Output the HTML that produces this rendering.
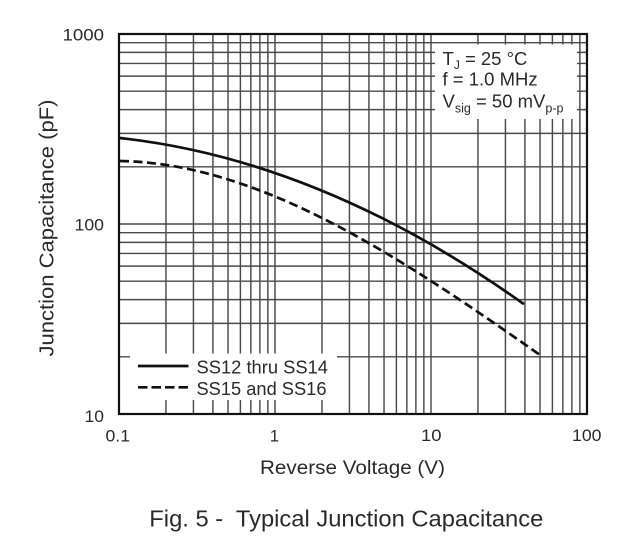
<!DOCTYPE html>
<html>
<head>
<meta charset="utf-8">
<style>
  html,body{margin:0;padding:0;background:#fff;}
  svg{display:block;}
  text{font-family:"Liberation Sans", Arial, sans-serif; fill:#2a2a2a;}
</style>
</head>
<body>
<svg width="620" height="543" viewBox="0 0 620 543" xmlns="http://www.w3.org/2000/svg">
  <rect x="0" y="0" width="620" height="543" fill="#fff"/>
  <!-- vertical grid -->
  <g stroke="#4a4a4a" stroke-width="1.45">
    <line x1="165.96" y1="34" x2="165.96" y2="414"/>
    <line x1="193.43" y1="34" x2="193.43" y2="414"/>
    <line x1="212.92" y1="34" x2="212.92" y2="414"/>
    <line x1="228.04" y1="34" x2="228.04" y2="414"/>
    <line x1="240.39" y1="34" x2="240.39" y2="414"/>
    <line x1="250.84" y1="34" x2="250.84" y2="414"/>
    <line x1="259.88" y1="34" x2="259.88" y2="414"/>
    <line x1="267.86" y1="34" x2="267.86" y2="414"/>
    <line x1="275" y1="34" x2="275" y2="414"/>
    <line x1="321.96" y1="34" x2="321.96" y2="414"/>
    <line x1="349.43" y1="34" x2="349.43" y2="414"/>
    <line x1="368.92" y1="34" x2="368.92" y2="414"/>
    <line x1="384.04" y1="34" x2="384.04" y2="414"/>
    <line x1="396.39" y1="34" x2="396.39" y2="414"/>
    <line x1="406.84" y1="34" x2="406.84" y2="414"/>
    <line x1="415.88" y1="34" x2="415.88" y2="414"/>
    <line x1="423.86" y1="34" x2="423.86" y2="414"/>
    <line x1="431" y1="34" x2="431" y2="414"/>
    <line x1="477.96" y1="34" x2="477.96" y2="414"/>
    <line x1="505.43" y1="34" x2="505.43" y2="414"/>
    <line x1="524.92" y1="34" x2="524.92" y2="414"/>
    <line x1="540.04" y1="34" x2="540.04" y2="414"/>
    <line x1="552.39" y1="34" x2="552.39" y2="414"/>
    <line x1="562.84" y1="34" x2="562.84" y2="414"/>
    <line x1="571.88" y1="34" x2="571.88" y2="414"/>
    <line x1="579.86" y1="34" x2="579.86" y2="414"/>
  </g>
  <!-- horizontal grid -->
  <g stroke="#4a4a4a" stroke-width="1.45">
    <line x1="119" y1="356.8" x2="587" y2="356.8"/>
    <line x1="119" y1="323.35" x2="587" y2="323.35"/>
    <line x1="119" y1="299.61" x2="587" y2="299.61"/>
    <line x1="119" y1="281.2" x2="587" y2="281.2"/>
    <line x1="119" y1="266.15" x2="587" y2="266.15"/>
    <line x1="119" y1="253.43" x2="587" y2="253.43"/>
    <line x1="119" y1="242.41" x2="587" y2="242.41"/>
    <line x1="119" y1="232.69" x2="587" y2="232.69"/>
    <line x1="119" y1="224" x2="587" y2="224"/>
    <line x1="119" y1="166.8" x2="587" y2="166.8"/>
    <line x1="119" y1="133.35" x2="587" y2="133.35"/>
    <line x1="119" y1="109.61" x2="587" y2="109.61"/>
    <line x1="119" y1="91.2" x2="587" y2="91.2"/>
    <line x1="119" y1="76.15" x2="587" y2="76.15"/>
    <line x1="119" y1="63.43" x2="587" y2="63.43"/>
    <line x1="119" y1="52.41" x2="587" y2="52.41"/>
    <line x1="119" y1="42.69" x2="587" y2="42.69"/>
  </g>
  <!-- white boxes for legend and annotation -->
  <rect x="130" y="353.5" width="207" height="46.5" fill="#fff"/>
  <rect x="435" y="44.5" width="142" height="74.5" fill="#fff"/>

  <!-- curves -->
  <path d="M120,138 Q321.5,160.2 523,303.5" fill="none" stroke="#111" stroke-width="2.7" stroke-linecap="round"/>
  <path d="M120,161 C260,163.4 400,256.7 540,355" fill="none" stroke="#111" stroke-width="2.7" stroke-dasharray="9 4.5"/>

  <!-- border -->
  <rect x="119" y="34" width="468" height="380" fill="none" stroke="#111" stroke-width="2.2"/>

  <!-- legend -->
  <line x1="138" y1="366" x2="188.5" y2="366" stroke="#111" stroke-width="2.7"/>
  <line x1="138" y1="387.3" x2="188.5" y2="387.3" stroke="#111" stroke-width="2.7" stroke-dasharray="9.5 4"/>
  <text x="196.5" y="373.3" font-size="18" textLength="131.5" lengthAdjust="spacingAndGlyphs">SS12 thru SS14</text>
  <text x="196.5" y="395" font-size="18" textLength="130" lengthAdjust="spacingAndGlyphs">SS15 and SS16</text>

  <!-- annotation -->
  <text x="442.5" y="65" font-size="18.5">T<tspan font-size="12" dy="4">J</tspan><tspan dy="-4"> = 25 °C</tspan></text>
  <text x="442.5" y="85.5" font-size="18.5">f = 1.0 MHz</text>
  <text x="442.5" y="107.7" font-size="18.5">V<tspan font-size="12.5" dy="5">sig</tspan><tspan dy="-5"> = 50 mV</tspan><tspan font-size="12.5" dy="5">p-p</tspan></text>

  <!-- y tick labels -->
  <text x="62.5" y="40.7" font-size="16.5" textLength="41.5" lengthAdjust="spacingAndGlyphs">1000</text>
  <text x="74.5" y="230.7" font-size="16.5" textLength="29.5" lengthAdjust="spacingAndGlyphs">100</text>
  <text x="84.5" y="422" font-size="16.5" textLength="19.5" lengthAdjust="spacingAndGlyphs">10</text>

  <!-- x tick labels -->
  <text x="105.5" y="441.5" font-size="16.5" textLength="24.5" lengthAdjust="spacingAndGlyphs">0.1</text>
  <text x="274.5" y="441.5" font-size="16.5" text-anchor="middle">1</text>
  <text x="421" y="441" font-size="16.5" textLength="20.5" lengthAdjust="spacingAndGlyphs">10</text>
  <text x="572" y="441" font-size="16.5" textLength="29.5" lengthAdjust="spacingAndGlyphs">100</text>

  <!-- axis labels -->
  <text x="352.5" y="474" font-size="19.5" text-anchor="middle" textLength="185" lengthAdjust="spacingAndGlyphs">Reverse Voltage (V)</text>
  <text transform="translate(53.5,228) rotate(-90)" font-size="20.5" text-anchor="middle" textLength="257" lengthAdjust="spacingAndGlyphs">Junction Capacitance (pF)</text>

  <!-- caption -->
  <text x="149.3" y="526.7" font-size="23" style="white-space:pre" textLength="394" lengthAdjust="spacingAndGlyphs">Fig. 5 -  Typical Junction Capacitance</text>
</svg>
</body>
</html>
